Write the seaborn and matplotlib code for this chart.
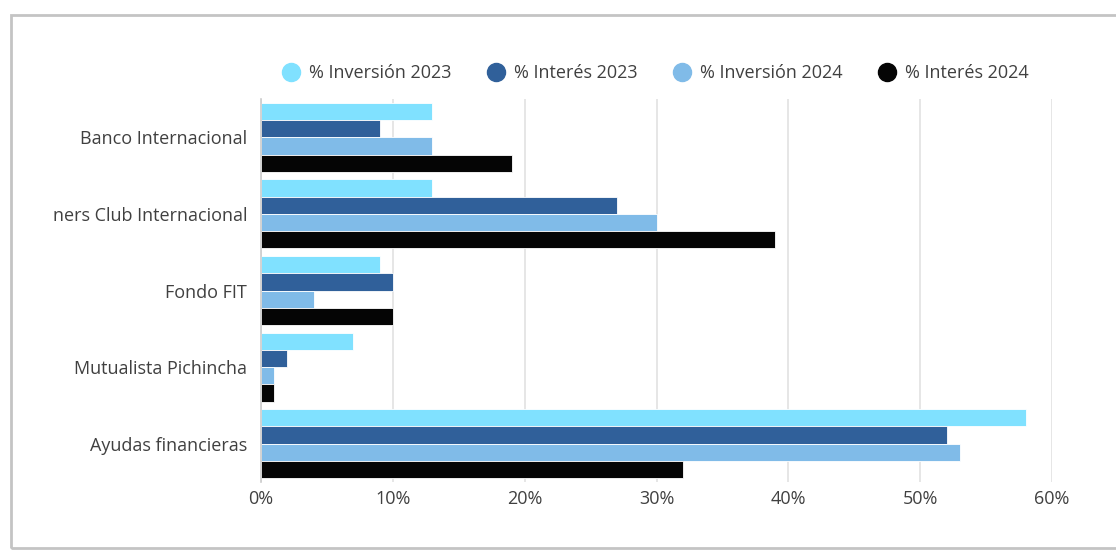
import pandas as pd
import numpy as np
import matplotlib
matplotlib.use("Agg")
import matplotlib.pyplot as plt
import seaborn as sns
from matplotlib.lines import Line2D
from matplotlib.patches import Rectangle

# --- DATOS ---
categorias = ["Banco Internacional", "ners Club Internacional", "Fondo FIT",
              "Mutualista Pichincha", "Ayudas financieras"]
series = ["% Inversión 2023", "% Interés 2023", "% Inversión 2024", "% Interés 2024"]
inversion_2023 = [13, 13, 9, 7, 58]
interes_2023 = [9, 27, 10, 2, 52]
inversion_2024 = [13, 30, 4, 1, 53]
interes_2024 = [19, 39, 10, 1, 32]
ticks_x = [0, 10, 20, 30, 40, 50, 60]

colores = ["#80E1FF", "#30609A", "#80BBE8", "#050505"]

valores = [inversion_2023, interes_2023, inversion_2024, interes_2024]
df = pd.DataFrame({
    "Entidad": categorias * len(series),
    "Serie": [s for s in series for _ in categorias],
    "Valor": [v for vals in valores for v in vals],
})

sns.set_style("white")
plt.rcParams['font.family'] = ['Open Sans', 'DejaVu Sans']

fig = plt.figure(figsize=(11.16, 5.51), dpi=100)
ax = fig.add_axes([0.2339, 0.1252, 0.7088, 0.6951])

sns.barplot(data=df, y="Entidad", x="Valor", hue="Serie", order=categorias,
            hue_order=series, palette=colores, saturation=1, width=0.9, orient="h",
            edgecolor="white", linewidth=0.6, legend=False, ax=ax)

ax.set_xlim(0, 60)
ax.set_ylim(4.5, -0.5)
ax.set_xticks(ticks_x)
ax.set_xticklabels([f"{t}%" for t in ticks_x])
ax.set_xlabel("")
ax.set_ylabel("")
ax.xaxis.grid(True, color="#e2e2e2", linewidth=1.2)
ax.set_axisbelow(True)
ax.tick_params(axis="both", length=0, labelsize=13, labelcolor="#404040")
ax.tick_params(axis="x", pad=6)
ax.tick_params(axis="y", pad=10)
for lado in ["top", "right", "bottom"]:
    ax.spines[lado].set_visible(False)
ax.spines["left"].set_color("#cccccc")
ax.spines["left"].set_linewidth(1.2)

handles = [Line2D([0], [0], marker="o", linestyle="", markersize=13,
                  markerfacecolor=c, markeredgecolor=c, label=s)
           for s, c in zip(series, colores)]
leg = fig.legend(handles=handles, loc="center", bbox_to_anchor=(0.585, 0.867),
                 ncol=4, frameon=False, fontsize=13, handlelength=1.6,
                 handletextpad=0.2, columnspacing=1.65, labelcolor="#404040")

# marco de la captura
fig.patches.append(Rectangle((11 / 1116, 3 / 551), 1.2, 1 - 18 / 551,
                             transform=fig.transFigure, fill=False,
                             edgecolor="#c4c4c4", linewidth=2.0))

fig.savefig("out.png", dpi=100)
